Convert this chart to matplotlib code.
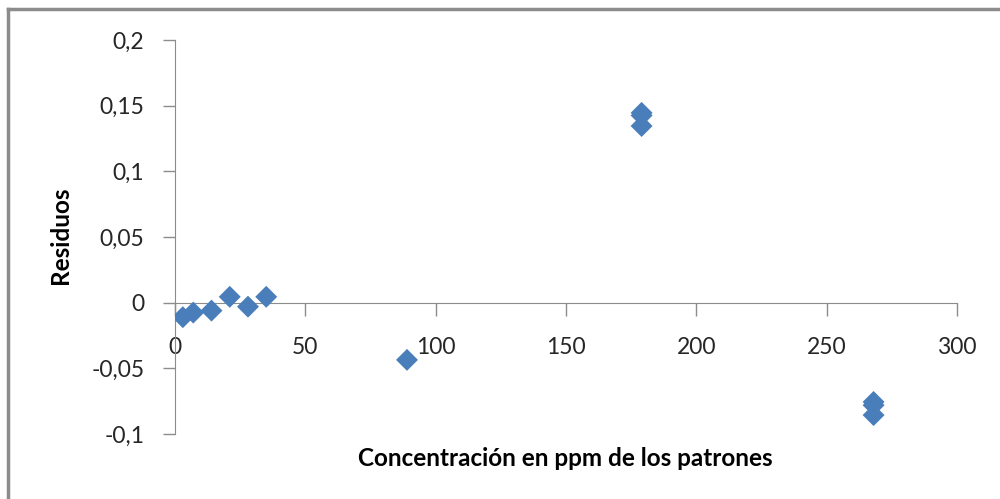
import matplotlib.pyplot as plt
from matplotlib.lines import Line2D
from matplotlib.ticker import FuncFormatter

# concentracion de los patrones (ppm) y residuos de la recta de calibrado
conc = [3, 7, 14, 21, 28, 35, 89, 179, 179, 179, 268, 268, 268]
residuos = [-0.011, -0.0075, -0.006, 0.0045, -0.003, 0.0045, -0.0435,
            0.1445, 0.1425, 0.1345, -0.0755, -0.078, -0.0855]

xticks = [0, 50, 100, 150, 200, 250, 300]
yticks = [-0.1, -0.05, 0, 0.05, 0.1, 0.15, 0.2]

plt.rcParams['font.family'] = ['Lato', 'DejaVu Sans']

fig = plt.figure(figsize=(10, 4.99), dpi=100)
ax = fig.add_axes([0.175, 0.130, 0.782, 0.790])

ax.scatter(conc, residuos, marker='D', s=125, color='#4a7ebb', edgecolors='none', zorder=3)

ax.set_xlim(0, 300)
ax.set_ylim(-0.1, 0.2)
ax.set_xticks(xticks)
ax.set_yticks(yticks)

def coma(v, pos):
    s = ('%g' % round(v, 3))
    return s.replace('.', ',')

ax.xaxis.set_major_formatter(FuncFormatter(coma))
ax.yaxis.set_major_formatter(FuncFormatter(coma))

# ejes estilo Excel: el eje x cruza en y=0
for side in ['top', 'right']:
    ax.spines[side].set_visible(False)
ax.spines['bottom'].set_position(('data', 0))
ax.spines['bottom'].set_color('#8c8c8c')
ax.spines['left'].set_color('#8c8c8c')
ax.tick_params(axis='both', colors='#8c8c8c', labelcolor='#262626', labelsize=16.5, length=9, width=1)
ax.tick_params(axis='x', direction='out', pad=16)
ax.tick_params(axis='y', direction='out', pad=13)

fig.text(0.061, 0.529, 'Residuos', rotation=90, fontsize=17.5, fontweight='bold',
         ha='center', va='center')
fig.text(0.565, 0.082, 'Concentración en ppm de los patrones', fontsize=17.5,
         fontweight='bold', ha='center', va='center')

# marco del grafico
fig.add_artist(Line2D([0.008, 0.008], [0, 0.981], color='#8c8c8c', lw=2.5, transform=fig.transFigure))
fig.add_artist(Line2D([0.008, 1.0], [0.981, 0.981], color='#8c8c8c', lw=2.5, transform=fig.transFigure))

plt.savefig('out.png', dpi=100)
